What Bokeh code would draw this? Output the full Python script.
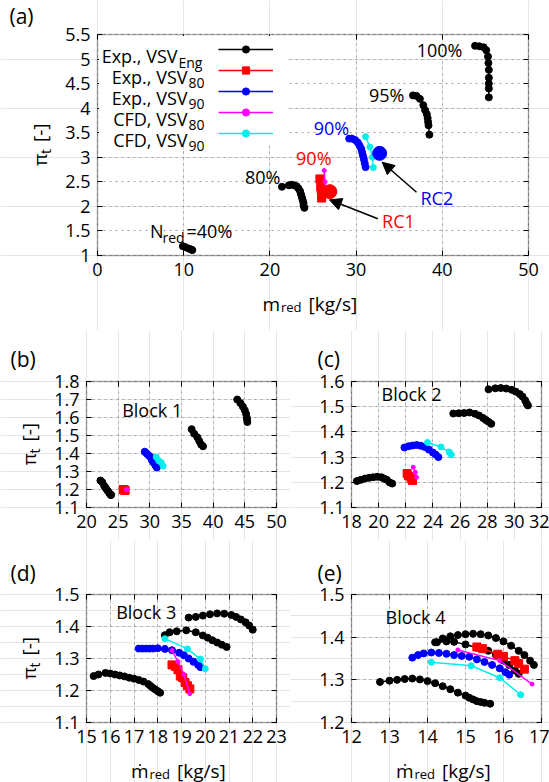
import numpy as np
from bokeh.plotting import figure
from bokeh.layouts import column, row
from bokeh.models import (Label, Legend, LegendItem, FixedTicker, Arrow, NormalHead,
                          BoxAnnotation, Range1d, LinearAxis, Grid)
from bokeh.embed import file_html
from bokeh.resources import INLINE

FONT = "Open Sans"
BLACK, RED, BLUE, MAGENTA, CYAN = "#000000", "#ff0000", "#0000ff", "#ff00ff", "#00eeee"

# ---------------- panel (a): full map ----------------
a_n40_x = [9.9, 10.2, 10.6, 10.9, 11.0]
a_n40_y = [1.19, 1.17, 1.14, 1.12, 1.11]
a_n80_x = [21.4, 22.2, 22.5, 22.8, 23.1, 23.3, 23.5, 23.6, 23.7, 23.8, 23.9, 23.9, 24.0]
a_n80_y = [2.40, 2.43, 2.44, 2.43, 2.41, 2.37, 2.31, 2.25, 2.19, 2.13, 2.07, 2.02, 1.97]
a_n95_x = [36.6, 37.0, 37.4, 37.8, 38.0, 38.2, 38.3, 38.35, 38.4, 38.5]
a_n95_y = [4.26, 4.25, 4.19, 4.06, 3.96, 3.88, 3.80, 3.72, 3.65, 3.46]
a_n100_x = [43.8, 44.3, 44.8, 45.1, 45.3, 45.35, 45.4, 45.4, 45.4, 45.4, 45.4]
a_n100_y = [5.27, 5.26, 5.24, 5.18, 5.05, 4.92, 4.78, 4.62, 4.50, 4.40, 4.22]
a_vsv80_x = [25.8, 25.9, 25.95, 26.0, 26.0, 26.0]
a_vsv80_y = [2.56, 2.40, 2.34, 2.28, 2.22, 2.17]
a_vsv90_x = [29.2, 29.5, 29.9, 30.2, 30.4, 30.6, 30.7, 30.8, 30.9, 31.0, 31.1]
a_vsv90_y = [3.38, 3.38, 3.35, 3.30, 3.24, 3.17, 3.10, 3.03, 2.96, 2.88, 2.80]
a_cfd80_x = [26.3, 26.4, 26.5]
a_cfd80_y = [2.73, 2.50, 2.30]
a_cfd90_x = [31.1, 31.6, 31.9, 32.0]
a_cfd90_y = [3.42, 3.21, 3.00, 2.79]
a_rc1_x, a_rc1_y = [26.95], [2.30]
a_rc2_x, a_rc2_y = [32.73], [3.08]

# ---------------- panel (b): Block 1 ----------------
b_n80_x = [22.2, 22.5, 22.8, 23.0, 23.2, 23.4, 23.6, 23.8, 23.9]
b_n80_y = [1.25, 1.24, 1.22, 1.21, 1.20, 1.19, 1.18, 1.17, 1.17]
b_n95_x = [36.6, 37.0, 37.5, 37.8, 38.1, 38.4]
b_n95_y = [1.535, 1.51, 1.49, 1.47, 1.45, 1.44]
b_n100_x = [43.8, 44.3, 44.7, 45.0, 45.2, 45.3, 45.35, 45.4]
b_n100_y = [1.70, 1.68, 1.66, 1.64, 1.62, 1.60, 1.59, 1.575]
b_vsv80_x = [25.8, 25.9, 26.0, 26.1]
b_vsv80_y = [1.20, 1.198, 1.197, 1.195]
b_vsv90_x = [29.2, 29.5, 29.8, 30.1, 30.3, 30.5, 30.7, 30.9, 31.1]
b_vsv90_y = [1.41, 1.40, 1.39, 1.38, 1.365, 1.355, 1.345, 1.333, 1.322]
b_cfd80_x = [26.3, 26.4]
b_cfd80_y = [1.20, 1.198]
b_cfd90_x = [31.0, 31.4, 31.8, 32.1]
b_cfd90_y = [1.38, 1.36, 1.35, 1.33]

# ---------------- panel (c): Block 2 ----------------
c_n80_x = [18.4, 18.7, 19.0, 19.3, 19.6, 19.9, 20.2, 20.4, 20.6, 20.8, 21.0]
c_n80_y = [1.205, 1.21, 1.215, 1.218, 1.22, 1.222, 1.22, 1.215, 1.21, 1.20, 1.195]
c_n95_x = [25.5, 25.9, 26.3, 26.7, 27.1, 27.4, 27.7, 27.9, 28.1, 28.3]
c_n95_y = [1.473, 1.474, 1.475, 1.477, 1.472, 1.465, 1.455, 1.447, 1.44, 1.432]
c_n100_x = [28.1, 28.6, 29.0, 29.4, 29.8, 30.1, 30.4, 30.6, 30.8, 30.9, 31.0]
c_n100_y = [1.569, 1.573, 1.574, 1.572, 1.567, 1.56, 1.55, 1.54, 1.525, 1.513, 1.505]
c_vsv80_x = [22.1, 22.2, 22.4, 22.5]
c_vsv80_y = [1.235, 1.225, 1.215, 1.207]
c_vsv90_x = [21.9, 22.2, 22.5, 22.8, 23.1, 23.4, 23.7, 24.0, 24.2, 24.4]
c_vsv90_y = [1.338, 1.343, 1.346, 1.348, 1.345, 1.34, 1.33, 1.318, 1.31, 1.30]
c_cfd80_x = [22.55, 22.7, 22.8]
c_cfd80_y = [1.26, 1.24, 1.22]
c_cfd90_x = [23.6, 24.6, 25.2, 25.35]
c_cfd90_y = [1.358, 1.34, 1.32, 1.31]

# ---------------- panel (d): Block 3 ----------------
d_n80_x = [15.3, 15.5, 15.8, 16.0, 16.2, 16.4, 16.6, 16.8, 17.0, 17.2, 17.4, 17.6, 17.7, 17.8, 17.9, 18.0, 18.1]
d_n80_y = [1.245, 1.25, 1.255, 1.253, 1.25, 1.247, 1.244, 1.24, 1.237, 1.233, 1.228, 1.22, 1.214, 1.208, 1.203, 1.198, 1.193]
d_n95_x = [18.3, 18.5, 18.8, 19.2, 19.6, 19.9, 20.1, 20.3, 20.5, 20.7, 20.9]
d_n95_y = [1.373, 1.382, 1.385, 1.388, 1.382, 1.372, 1.365, 1.357, 1.35, 1.343, 1.336]
d_n100_x = [19.3, 19.6, 19.9, 20.2, 20.5, 20.8, 21.1, 21.3, 21.5, 21.7, 21.85, 22.0]
d_n100_y = [1.428, 1.43, 1.434, 1.438, 1.441, 1.44, 1.436, 1.43, 1.422, 1.413, 1.403, 1.39]
d_vsv80_x = [18.6, 18.75, 18.85, 18.95, 19.05, 19.15, 19.25, 19.35]
d_vsv80_y = [1.28, 1.275, 1.265, 1.245, 1.24, 1.225, 1.215, 1.205]
d_vsv90_x = [17.2, 17.35, 17.5, 17.65, 17.8, 18.0, 18.3, 18.6, 18.9, 19.1, 19.3, 19.5, 19.7, 19.8]
d_vsv90_y = [1.331, 1.331, 1.331, 1.331, 1.331, 1.332, 1.33, 1.326, 1.318, 1.31, 1.30, 1.29, 1.28, 1.273]
d_cfd80_x = [18.6, 18.85, 19.1, 19.35]
d_cfd80_y = [1.325, 1.29, 1.25, 1.19]
d_cfd90_x = [18.3, 19.25, 19.8, 20.0]
d_cfd90_y = [1.362, 1.33, 1.298, 1.268]

# ---------------- panel (e): Block 4 ----------------
e_n80_x = [12.75, 13.0, 13.2, 13.4, 13.6, 13.8, 14.0, 14.2, 14.4, 14.6, 14.8, 15.0, 15.1, 15.2, 15.3, 15.4, 15.5, 15.65]
e_n80_y = [1.295, 1.298, 1.30, 1.302, 1.303, 1.301, 1.297, 1.292, 1.285, 1.278, 1.27, 1.263, 1.258, 1.254, 1.25, 1.248, 1.246, 1.244]
e_n95_x = [14.25, 14.5, 14.7, 15.0, 15.3, 15.6, 15.8, 16.0, 16.15, 16.3, 16.4]
e_n95_y = [1.388, 1.39, 1.389, 1.383, 1.375, 1.368, 1.358, 1.345, 1.335, 1.322, 1.314]
e_n100_x = [14.2, 14.4, 14.6, 14.8, 15.0, 15.2, 15.4, 15.6, 15.8, 16.0, 16.2, 16.4, 16.55, 16.7, 16.8]
e_n100_y = [1.388, 1.397, 1.402, 1.405, 1.407, 1.408, 1.407, 1.404, 1.398, 1.39, 1.38, 1.368, 1.358, 1.345, 1.335]
e_vsv80_x = [15.3, 15.45, 15.85, 16.0, 16.3, 16.4, 16.55]
e_vsv80_y = [1.377, 1.373, 1.36, 1.355, 1.345, 1.338, 1.325]
e_vsv90_x = [13.6, 13.75, 13.9, 14.1, 14.3, 14.5, 14.7, 14.9, 15.1, 15.3, 15.5, 15.7, 15.9, 16.05, 16.15]
e_vsv90_y = [1.352, 1.358, 1.362, 1.364, 1.363, 1.361, 1.358, 1.356, 1.354, 1.348, 1.342, 1.335, 1.327, 1.318, 1.312]
e_cfd80_x = [14.8, 15.9, 16.75]
e_cfd80_y = [1.37, 1.345, 1.29]
e_cfd90_x = [14.1, 15.15, 15.9, 16.45]
e_cfd90_y = [1.341, 1.333, 1.305, 1.265]

# ---------------- ticks ----------------
a_xticks = [0, 10, 20, 30, 40, 50]
a_xlabels = ["0", "10", "20", "30", "40", "50"]
a_yticks = [1, 1.5, 2, 2.5, 3, 3.5, 4, 4.5, 5, 5.5]
a_ylabels = ["1", "1.5", "2", "2.5", "3", "3.5", "4", "4.5", "5", "5.5"]
b_xticks = [20, 25, 30, 35, 40, 45, 50]
b_xlabels = ["20", "25", "30", "35", "40", "45", "50"]
b_yticks = [1.1, 1.2, 1.3, 1.4, 1.5, 1.6, 1.7, 1.8]
b_ylabels = ["1.1", "1.2", "1.3", "1.4", "1.5", "1.6", "1.7", "1.8"]
c_xticks = [18, 20, 22, 24, 26, 28, 30, 32]
c_xlabels = ["18", "20", "22", "24", "26", "28", "30", "32"]
c_yticks = [1.1, 1.2, 1.3, 1.4, 1.5, 1.6]
c_ylabels = ["1.1", "1.2", "1.3", "1.4", "1.5", "1.6"]
d_xticks = [15, 16, 17, 18, 19, 20, 21, 22, 23]
d_xlabels = ["15", "16", "17", "18", "19", "20", "21", "22", "23"]
d_yticks = [1.1, 1.2, 1.3, 1.4, 1.5]
d_ylabels = ["1.1", "1.2", "1.3", "1.4", "1.5"]
e_xticks = [12, 13, 14, 15, 16, 17]
e_xlabels = ["12", "13", "14", "15", "16", "17"]
e_yticks = [1.2, 1.3, 1.4, 1.5]
e_ylabels = ["1.2", "1.3", "1.4", "1.5"]

legend_main = ["Exp., VSV", "Exp., VSV", "Exp., VSV", "CFD, VSV", "CFD, VSV"]
legend_sub = ["Eng", "80", "90", "80", "90"]

HAS_CROSS = "cross_bounds" in Grid.properties()


def key(t):
    return int(t) if float(t).is_integer() else t


class Panel:
    """One figure whose whole canvas is the plotting frame; the boxed panel
    region (fl..fr, ft..fb in page pixels) carries the axes at fixed locations."""

    def __init__(self, page_left, page_top, width, height, fl, fr, ft, fb,
                 xr, yr, xt, xl, yt, yl):
        self.fl, self.fr, self.ft, self.fb = fl, fr, ft, fb
        self.xr, self.yr = xr, yr
        self.sx = (fr - fl) / (xr[1] - xr[0])
        self.sy = (fb - ft) / (yr[1] - yr[0])
        X0 = xr[0] - (fl - page_left) / self.sx
        X1 = xr[1] + (page_left + width - fr) / self.sx
        Y0 = yr[0] - (page_top + height - fb) / self.sy
        Y1 = yr[1] + (ft - page_top) / self.sy
        p = figure(width=width, height=height, x_range=Range1d(X0, X1), y_range=Range1d(Y0, Y1),
                   output_backend="svg", toolbar_location=None, title=None,
                   x_axis_location=None, y_axis_location=None, min_border=0)
        p.background_fill_color = "white"
        p.border_fill_color = "white"
        p.outline_line_color = None
        self.p = p

        # grid lines restricted to the panel box
        if HAS_CROSS:
            gx = Grid(dimension=0, ticker=FixedTicker(ticks=xt), bounds=xr, cross_bounds=yr)
            gy = Grid(dimension=1, ticker=FixedTicker(ticks=yt), bounds=yr, cross_bounds=xr)
            for g in (gx, gy):
                g.grid_line_color = "#a0a0a0"
                g.grid_line_dash = "2 4"
                g.grid_line_width = 1
                p.add_layout(g)
        else:
            p.segment(x0=xt, y0=[yr[0]] * len(xt), x1=xt, y1=[yr[1]] * len(xt),
                      line_color="#a0a0a0", line_dash="2 4", line_width=1)
            p.segment(x0=[xr[0]] * len(yt), y0=yt, x1=[xr[1]] * len(yt), y1=yt,
                      line_color="#a0a0a0", line_dash="2 4", line_width=1)

        def mk_axis(ticks, labels, loc, bounds, show):
            ax = LinearAxis(ticker=FixedTicker(ticks=ticks), fixed_location=loc, bounds=bounds)
            if show:
                ax.major_label_overrides = {key(t): s for t, s in zip(ticks, labels)}
            else:
                ax.major_label_overrides = {key(t): "" for t in ticks}
            ax.axis_line_color = None
            ax.major_tick_in = 5
            ax.major_tick_out = 0
            ax.major_tick_line_color = "black"
            ax.major_tick_line_width = 1
            ax.minor_tick_line_color = None
            ax.major_label_text_font = FONT
            ax.major_label_text_font_size = "18px" if show else "1px"
            ax.major_label_text_color = "black" if show else None
            ax.major_label_standoff = 7 if show else 0
            return ax

        p.add_layout(mk_axis(xt, xl, yr[0], xr, True), "below")
        p.add_layout(mk_axis(yt, yl, xr[0], yr, True), "left")
        p.add_layout(mk_axis(xt, xl, yr[1], xr, False), "above")
        p.add_layout(mk_axis(yt, yl, xr[1], yr, False), "right")
        self.box = BoxAnnotation(left=xr[0], right=xr[1], bottom=yr[0], top=yr[1],
                                 fill_alpha=0.0, line_color="black", line_width=1.5)

    def finish(self):
        self.p.add_layout(self.box)

    def X(self, px):
        return self.xr[0] + (px - self.fl) / self.sx

    def Y(self, py):
        return self.yr[0] + (self.fb - py) / self.sy

    def text(self, px, py, s, size=18, color="black", align="left", baseline="middle", angle=0.0):
        self.p.add_layout(Label(x=self.X(px), y=self.Y(py), text=s, text_font=FONT,
                                text_font_size=f"{size}px", text_color=color,
                                text_align=align, text_baseline=baseline, angle=angle))

    def series(self, x, y, color, marker="circle", size=7, lw=1.5):
        r1 = self.p.line(x, y, line_color=color, line_width=lw)
        r2 = self.p.scatter(x, y, marker=marker, size=size, fill_color=color, line_color=color)
        return [r1, r2]

    def ylabel(self):
        xc = self.fl - 58
        yc = (self.ft + self.fb) / 2
        a = np.pi / 2
        self.text(xc, yc + 21, "π", 19, angle=a)
        self.text(xc + 6, yc + 9, "t", 14, angle=a)
        self.text(xc, yc - 3, "[-]", 19, angle=a)

    def xlabel(self, m):
        cx = (self.fl + self.fr) / 2
        self.text(cx - 33, self.fb + 48, m, 19, align="right", baseline="alphabetic")
        self.text(cx - 32, self.fb + 51.5, "red", 13, baseline="alphabetic")
        self.text(cx - 4.5, self.fb + 48, "[kg/s]", 19, baseline="alphabetic")

    def tag(self, px, py, s):
        self.text(px, py, s, 21)


def four_sets(pn, n_sets, v80, v90, c80, c90):
    for (x, y) in n_sets:
        pn.series(x, y, BLACK)
    pn.series(*v80, RED, marker="square", size=8)
    pn.series(*v90, BLUE)
    pn.series(*c80, MAGENTA, size=4)
    pn.series(*c90, CYAN, size=6)


# ---------------- panel (a) ----------------
A = Panel(0, 0, 549, 330, 97, 528, 34, 255, (0, 50), (1, 5.5), a_xticks, a_xlabels, a_yticks, a_ylabels)
pa = A.p
pa.add_layout(BoxAnnotation(left=A.X(98.5), right=A.X(287), top=A.Y(35.5), bottom=A.Y(145),
                            fill_color="white", fill_alpha=1.0, line_color=None))
r_eng = None
for (x, y) in [(a_n40_x, a_n40_y), (a_n80_x, a_n80_y), (a_n95_x, a_n95_y), (a_n100_x, a_n100_y)]:
    rr = A.series(x, y, BLACK)
    if r_eng is None:
        r_eng = rr
r_v80 = A.series(a_vsv80_x, a_vsv80_y, RED, marker="square", size=8)
r_v90 = A.series(a_vsv90_x, a_vsv90_y, BLUE)
r_c80 = A.series(a_cfd80_x, a_cfd80_y, MAGENTA, size=4)
r_c90 = A.series(a_cfd90_x, a_cfd90_y, CYAN, size=6)
pa.scatter(a_rc1_x, a_rc1_y, size=14, fill_color=RED, line_color=RED)
pa.scatter(a_rc2_x, a_rc2_y, size=14, fill_color=BLUE, line_color=BLUE)

legend = Legend(items=[LegendItem(label=" ", renderers=r) for r in [r_eng, r_v80, r_v90, r_c80, r_c90]],
                location=(218, 188), orientation="vertical",
                glyph_width=55, glyph_height=18, label_height=18, label_width=0,
                label_standoff=0, spacing=3, padding=0, margin=0,
                border_line_color=None, background_fill_alpha=0.0,
                label_text_font_size="1px")
pa.add_layout(legend)

for i in range(5):
    ly = 49.3 + 21.1 * i
    mx = 177 if i == 0 else 187
    A.text(mx, ly + 5.7, legend_main[i], 18, align="right", baseline="alphabetic")
    A.text(mx + 1, ly + 12.2, legend_sub[i], 14, baseline="alphabetic")

A.text(462, 49, "100%", align="right")
A.text(404, 94, "95%", align="right")
A.text(331, 127.7, "90%", color=BLUE, align="center")
A.text(313.3, 157, "90%", color=RED, align="center")
A.text(280, 176.7, "80%", align="right")
A.text(149.5, 230, "N")
A.text(162, 237, "red", 14)
A.text(186, 230, "=40%")
A.text(381.6, 220.7, "RC1", color=RED)
A.text(420, 197.7, "RC2", color=BLUE)
pa.add_layout(Arrow(x_start=A.X(377.4), y_start=A.Y(218.3), x_end=A.X(329), y_end=A.Y(199.3),
                    line_width=1.5, line_color="black",
                    end=NormalHead(size=12, fill_color="black", line_color="black")))
pa.add_layout(Arrow(x_start=A.X(416), y_start=A.Y(191.7), x_end=A.X(381.7), y_end=A.Y(161.7),
                    line_width=1.5, line_color="black",
                    end=NormalHead(size=12, fill_color="black", line_color="black")))
A.ylabel()
A.xlabel("m")
A.tag(9, 15, "(a)")
A.finish()

# ---------------- panels (b)-(e) ----------------
LW, RW, RX = 290, 259, 290

B = Panel(0, 330, LW, 210, 86, 276, 381, 507, (20, 50), (1.1, 1.8), b_xticks, b_xlabels, b_yticks, b_ylabels)
four_sets(B, [(b_n80_x, b_n80_y), (b_n95_x, b_n95_y), (b_n100_x, b_n100_y)],
          (b_vsv80_x, b_vsv80_y), (b_vsv90_x, b_vsv90_y), (b_cfd80_x, b_cfd80_y), (b_cfd90_x, b_cfd90_y))
B.text(121.7, 409, "Block 1")
B.ylabel()
B.tag(10, 358, "(b)")
B.finish()

C = Panel(RX, 330, RW, 210, 351, 541, 381, 507, (18, 32), (1.1, 1.6), c_xticks, c_xlabels, c_yticks, c_ylabels)
four_sets(C, [(c_n80_x, c_n80_y), (c_n95_x, c_n95_y), (c_n100_x, c_n100_y)],
          (c_vsv80_x, c_vsv80_y), (c_vsv90_x, c_vsv90_y), (c_cfd80_x, c_cfd80_y), (c_cfd90_x, c_cfd90_y))
C.text(381, 393.3, "Block 2")
C.tag(317, 358, "(c)")
C.finish()

D = Panel(0, 540, LW, 242, 86, 276, 594, 722, (15, 23), (1.1, 1.5), d_xticks, d_xlabels, d_yticks, d_ylabels)
four_sets(D, [(d_n80_x, d_n80_y), (d_n95_x, d_n95_y), (d_n100_x, d_n100_y)],
          (d_vsv80_x, d_vsv80_y), (d_vsv90_x, d_vsv90_y), (d_cfd80_x, d_cfd80_y), (d_cfd90_x, d_cfd90_y))
D.text(115.7, 611.7, "Block 3")
D.ylabel()
D.xlabel("ṁ")
D.tag(10, 572, "(d)")
D.finish()

E = Panel(RX, 540, RW, 242, 351, 541, 594, 722, (12, 17), (1.2, 1.5), e_xticks, e_xlabels, e_yticks, e_ylabels)
four_sets(E, [(e_n80_x, e_n80_y), (e_n95_x, e_n95_y), (e_n100_x, e_n100_y)],
          (e_vsv80_x, e_vsv80_y), (e_vsv90_x, e_vsv90_y), (e_cfd80_x, e_cfd80_y), (e_cfd90_x, e_cfd90_y))
E.text(385, 616.7, "Block 4")
E.xlabel("ṁ")
E.tag(317, 572, "(e)")
E.finish()

layout = column(pa, row(B.p, C.p), row(D.p, E.p))
open("out.html", "w").write(file_html(layout, INLINE))
